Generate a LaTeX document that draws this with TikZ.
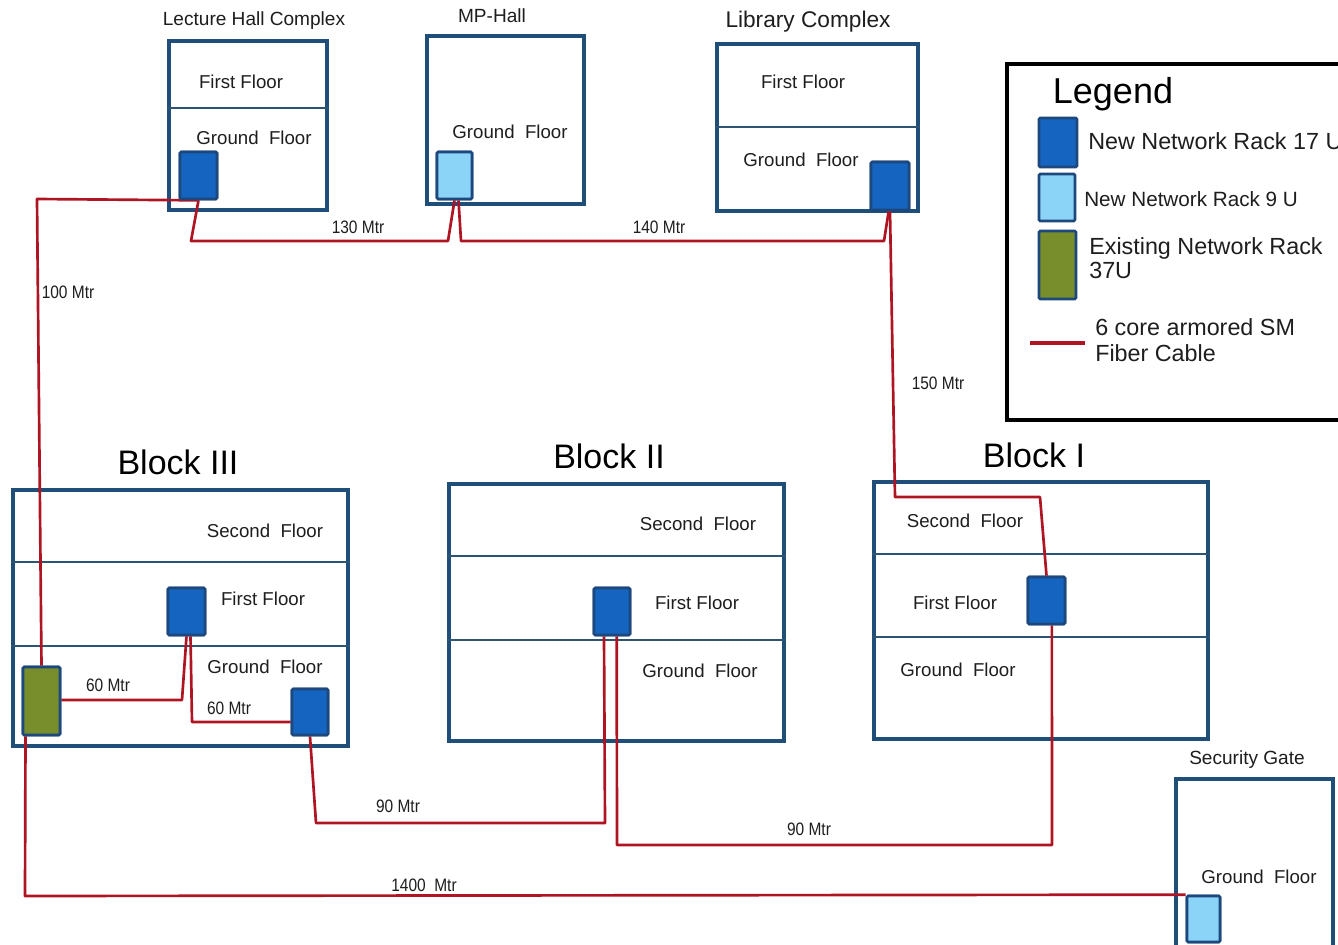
\documentclass[tikz,border=0pt]{standalone}
\usepackage{fontspec}
\setmainfont{Liberation Sans}
\newfontfamily\narrowfont[FakeStretch=0.86]{Liberation Sans}
\usetikzlibrary{fit}
\definecolor{bldgc}{RGB}{31,78,121}
\definecolor{divc}{RGB}{45,85,115}
\definecolor{rackbd}{RGB}{28,72,125}
\definecolor{rackdark}{RGB}{21,101,192}
\definecolor{racklight}{RGB}{140,212,247}
\definecolor{rackgreen}{RGB}{120,142,45}
\definecolor{cablec}{RGB}{175,20,35}
\definecolor{txt}{RGB}{30,30,30}
\begin{document}
\begin{tikzpicture}[x=0.75pt,y=-0.75pt,
  bldg/.style={draw=bldgc, line width=2.6pt, inner sep=0pt, fill=white},
  divider/.style={draw=divc, line width=1pt},
  rackbase/.style={draw=rackbd, line width=2pt, inner sep=0pt, rounded corners=1pt},
  rackA/.style={rackbase, fill=rackdark},
  rackB/.style={rackbase, fill=racklight},
  rackC/.style={rackbase, fill=rackgreen},
  cable/.style={draw=cablec, line width=2pt, line join=round},
  flr/.style={font=\fontsize{14pt}{16pt}\selectfont, text=txt, inner sep=0pt},
  ttl/.style={font=\fontsize{14.3pt}{16pt}\selectfont, text=txt, inner sep=0pt},
  big/.style={font=\fontsize{25.5pt}{28pt}\selectfont, text=black, inner sep=0pt},
  lgd/.style={font=\fontsize{17.5pt}{18pt}\selectfont, text=txt, inner sep=0pt, anchor=west, align=left},
  mtr/.style={font=\narrowfont\fontsize{13.5pt}{15pt}\selectfont, text=txt, inner sep=0pt}]
\useasboundingbox (0,0) rectangle (1338,945);
\clip (0,0) rectangle (1338,945);
\fill[white] (0,0) rectangle (1338,945);

% ---------- buildings ----------
\node[bldg, fit={(169,41)(327,210)}] (lhc) {};
\draw[divider] (lhc.west |- 0,108) -- (lhc.east |- 0,108);
\node[bldg, fit={(427,36)(584,204)}] (mph) {};
\node[bldg, fit={(717,44)(918,211)}] (lib) {};
\draw[divider] (lib.west |- 0,127) -- (lib.east |- 0,127);
\node[bldg, fit={(13,490)(348,746)}] (b3) {};
\draw[divider] (b3.west |- 0,562) -- (b3.east |- 0,562);
\draw[divider] (b3.west |- 0,646) -- (b3.east |- 0,646);
\node[bldg, fit={(449,484)(784,741)}] (b2) {};
\draw[divider] (b2.west |- 0,556) -- (b2.east |- 0,556);
\draw[divider] (b2.west |- 0,640) -- (b2.east |- 0,640);
\node[bldg, fit={(874,482)(1208,739)}] (b1) {};
\draw[divider] (b1.west |- 0,554) -- (b1.east |- 0,554);
\draw[divider] (b1.west |- 0,637) -- (b1.east |- 0,637);
\node[bldg, fit={(1176,779)(1333,960)}] (sg) {};

% ---------- titles ----------
\node[ttl] (tlhc) at (254,21) {Lecture Hall Complex};
\node[ttl] (tmph) at (492,16) {MP-Hall};
\node[ttl, font=\fontsize{17pt}{19pt}\selectfont] (tlib) at (808,22) {Library Complex};
\node[ttl] (tsg) at (1247,760) {Security Gate};
\node[big] (tb3) at (178,462) {Block III};
\node[big] (tb2) at (609,456) {Block II};
\node[big] (tb1) at (1034,455) {Block I};

% ---------- floor labels ----------
\node[flr] (f1) at (241,82) {First Floor};
\node[flr] (f2) at (254,138) {Ground~~Floor};
\node[flr] (f3) at (510,132) {Ground~~Floor};
\node[flr] (f4) at (803,82) {First Floor};
\node[flr] (f5) at (801,160) {Ground~~Floor};
\node[flr] (f6) at (265,531) {Second~~Floor};
\node[flr] (f7) at (263,599) {First Floor};
\node[flr] (f8) at (265,667) {Ground~~Floor};
\node[flr] (f9) at (698,524) {Second~~Floor};
\node[flr] (f10) at (697,603) {First Floor};
\node[flr] (f11) at (700,671) {Ground~~Floor};
\node[flr] (f12) at (965,521) {Second~~Floor};
\node[flr] (f13) at (955,603) {First Floor};
\node[flr] (f14) at (958,670) {Ground~~Floor};
\node[flr] (f15) at (1259,877) {Ground~~Floor};

% ---------- racks ----------
\node[rackA, fit={(180,152)(217,199)}] (rL) {};
\node[rackB, fit={(437,152)(472,199)}] (rM) {};
\node[rackA, fit={(871,162)(909,210)}] (rLib) {};
\node[rackA, fit={(168,588)(205,635)}] (rB3f) {};
\node[rackC, fit={(23,667)(60,735)}] (rG) {};
\node[rackA, fit={(292,689)(328,735)}] (rB3g) {};
\node[rackA, fit={(594,588)(630,635)}] (rB2) {};
\node[rackA, fit={(1028,577)(1065,624)}] (rB1) {};
\node[rackB, fit={(1187,896)(1220,942)}] (rS) {};

% ---------- cables ----------
\draw[cable] (rL.south) -- (191,241) -- (448,241) -- (rM.south);
\draw[cable] ([xshift=3pt]rM.south) -- (461,241) -- (884,241) -- ([xshift=-1pt]rLib.south);
\draw[cable] (rLib.south) -- (895,497) -- (1040,497) -- (rB1.north);
\draw[cable] ([xshift=4pt]rB1.south) -- (1052,845) -- (617,845) -- ([xshift=3.5pt]rB2.south);
\draw[cable] ([xshift=-6pt]rB2.south) -- (605,823) -- (316,823) -- (rB3g.south);
\draw[cable] (rB3f.south) -- (182,700) -- (rG.east |- 0,700);
\draw[cable] ([xshift=3pt]rB3f.south) -- (192,722) -- (rB3g.west |- 0,722);
\draw[cable] (rG.north) -- (37,199) -- (rL.south);
\draw[cable] ([xshift=-12pt]rG.south) -- (25,896) -- (rS.north west);

% redraw racks on top of cable ends
\node[rackA, fit={(180,152)(217,199)}] {};
\node[rackB, fit={(437,152)(472,199)}] {};
\node[rackA, fit={(871,162)(909,210)}] {};
\node[rackA, fit={(168,588)(205,635)}] {};
\node[rackC, fit={(23,667)(60,735)}] {};
\node[rackA, fit={(292,689)(328,735)}] {};
\node[rackA, fit={(594,588)(630,635)}] {};
\node[rackA, fit={(1028,577)(1065,624)}] {};
\node[rackB, fit={(1187,896)(1220,942)}] {};

% ---------- cable labels ----------
\node[mtr] (m1) at (68,292) {100 Mtr};
\node[mtr] (m2) at (358,227) {130 Mtr};
\node[mtr] (m3) at (659,227) {140 Mtr};
\node[mtr] (m4) at (938,383) {150 Mtr};
\node[mtr] (m5) at (108,685) {60 Mtr};
\node[mtr] (m6) at (229,708) {60 Mtr};
\node[mtr] (m7) at (398,806) {90 Mtr};
\node[mtr] (m8) at (809,829) {90 Mtr};
\node[mtr] (m9) at (424,885) {1400~~Mtr};

% ---------- legend ----------
\node[draw=black, line width=3pt, inner sep=0pt, fit={(1007,64)(1360,420)}] (lg) {};
\node[font=\fontsize{27pt}{30pt}\selectfont, inner sep=0pt] (lgt) at (1113,94) {Legend};
\node[rackA, fit={(1039,118)(1077,167)}] (lr1) {};
\node[rackB, fit={(1039,174)(1075,221)}] (lr2) {};
\node[rackC, fit={(1039,231)(1076,299)}] (lr3) {};
\node[lgd] (lt1) at (1088,141) {New Network Rack 17 U};
\node[lgd, font=\fontsize{15.5pt}{18pt}\selectfont] (lt2) at (1084,199) {New Network Rack 9 U};
\node[lgd, font=\fontsize{17.5pt}{18pt}\selectfont] (lt3) at (1089,258) {Existing Network Rack\\37U};
\coordinate (lc1) at (1030,343);
\coordinate (lc2) at (1085,343);
\draw[cable, line width=2.4pt] (lc1) -- (lc2);
\node[lgd, font=\fontsize{17.5pt}{20pt}\selectfont] (lt4) at (1095,340) {6 core armored SM\\Fiber Cable};
\end{tikzpicture}
\end{document}
